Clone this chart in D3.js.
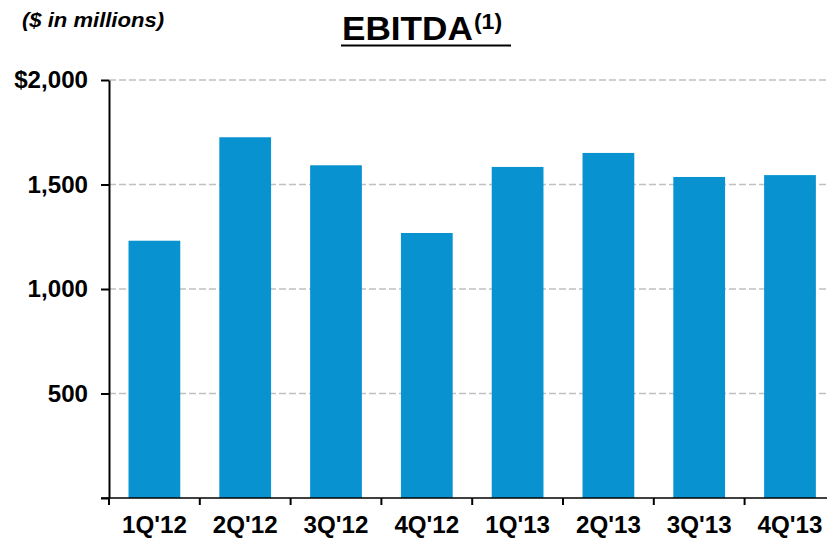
<!DOCTYPE html>
<html>
<head>
<meta charset="utf-8">
<script src="https://cdn.jsdelivr.net/npm/d3@7"></script>
<style>
  html, body { margin: 0; padding: 0; background: #fff; }
  svg { display: block; font-family: "Liberation Sans", Arial, sans-serif; }
</style>
</head>
<body>
<svg id="chart" width="827" height="538"></svg>
<script>
const categories = ["1Q'12", "2Q'12", "3Q'12", "4Q'12", "1Q'13", "2Q'13", "3Q'13", "4Q'13"];
const ebitda = [1231, 1726, 1592, 1268, 1584, 1651, 1536, 1545];
const yTickValues = [0, 500, 1000, 1500, 2000];
const yTickLabels = ["", "500", "1,000", "1,500", "$2,000"];
const titleText = "EBITDA";
const titleNote = "(1)";
const unitText = "($ in millions)";

(function () {
const svg = d3.select("#chart");
const sx = 1.05;
const plotLeft = 109, plotRight = 835.4, plotTop = 80, plotBottom = 498;

const x = d3.scaleBand().domain(categories).range([plotLeft, plotRight]).paddingInner(0.43).paddingOuter(0.215);
const xTicks = d3.scaleBand().domain(categories).range([plotLeft, plotRight]);
const y = d3.scaleLinear().domain([0, 2000]).range([plotBottom, plotTop]);

// gridlines
svg.append("g").selectAll("line").data(yTickValues.filter(v => v > 0)).join("line")
  .attr("x1", plotLeft).attr("x2", 827)
  .attr("y1", d => y(d)).attr("y2", d => y(d))
  .attr("stroke", "#c0c0c0").attr("stroke-width", 1.5).attr("stroke-dasharray", "7,3");

// bars
svg.append("g").selectAll("rect").data(ebitda).join("rect")
  .attr("x", (d, i) => x(categories[i]))
  .attr("width", x.bandwidth())
  .attr("y", d => y(d))
  .attr("height", d => y(0) - y(d))
  .attr("fill", "#0893d0");

// y axis
const yAxis = svg.append("g").attr("transform", `translate(${plotLeft},0)`)
  .call(d3.axisLeft(y).tickValues(yTickValues).tickSize(8).tickSizeOuter(0).tickFormat(""));
yAxis.select(".domain").attr("stroke", "#000").attr("stroke-width", 2);
yAxis.selectAll(".tick line").attr("stroke", "#000").attr("stroke-width", 2);

// y labels
svg.append("g").selectAll("text").data(yTickValues).join("text")
  .attr("transform", d => `translate(88,${y(d)}) scale(${sx},1)`)
  .attr("text-anchor", "end").attr("dy", "0.36em")
  .attr("font-size", 23).attr("font-weight", "bold").attr("fill", "#000")
  .text((d, i) => yTickLabels[i]);

// x axis
const xAxisG = svg.append("g").attr("transform", `translate(0,${plotBottom})`);
xAxisG.append("line").attr("x1", plotLeft - 8).attr("x2", 827).attr("y1", 0).attr("y2", 0)
  .attr("stroke", "#000").attr("stroke-width", 1.5);
xAxisG.selectAll("line.tk").data(categories).join("line").attr("class", "tk")
  .attr("x1", d => xTicks(d)).attr("x2", d => xTicks(d))
  .attr("y1", 0).attr("y2", 7).attr("stroke", "#000").attr("stroke-width", 2);
xAxisG.selectAll("text").data(categories).join("text")
  .attr("transform", d => `translate(${x(d) + x.bandwidth() / 2},35) scale(${sx},1)`)
  .attr("text-anchor", "middle")
  .attr("font-size", 23).attr("font-weight", "bold").attr("fill", "#000")
  .text(d => d);

// title
const title = svg.append("text").attr("transform", `translate(342,40) scale(${sx},1)`)
  .attr("font-size", 33.5).attr("font-weight", "bold").attr("fill", "#000");
title.append("tspan").text(titleText);
title.append("tspan").attr("font-size", 22).attr("dy", -11).attr("dx", 1).text(titleNote);
svg.append("line").attr("x1", 341).attr("x2", 511).attr("y1", 45.5).attr("y2", 45.5)
  .attr("stroke", "#000").attr("stroke-width", 2);

// unit
svg.append("text").attr("transform", `translate(22,27) scale(${sx},1)`)
  .attr("font-size", 21).attr("font-weight", "bold").attr("font-style", "italic")
  .attr("fill", "#000").text(unitText);
})();
</script>
</body>
</html>
